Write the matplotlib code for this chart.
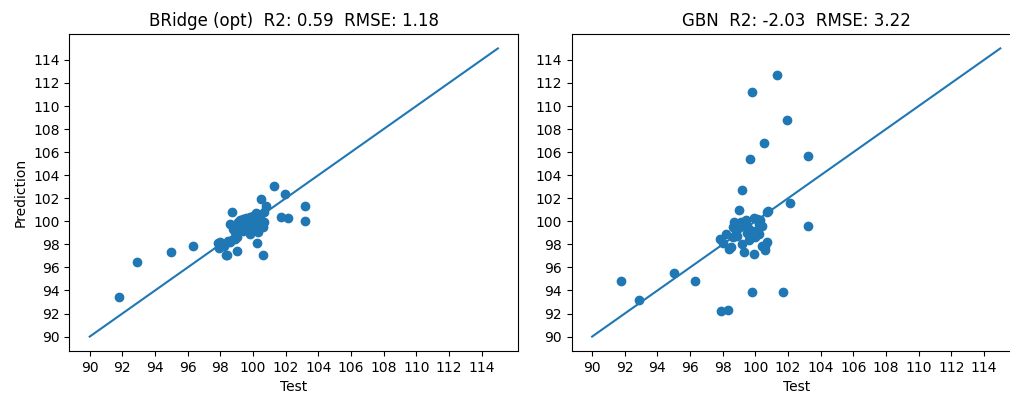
import matplotlib
matplotlib.use("Agg")
import matplotlib.pyplot as plt
import numpy as np

# Test values (shared by both panels)
x_test = [91.8, 92.9, 95.0, 96.3, 97.85, 97.9, 98.0, 98.35, 98.4, 98.6,
          98.7, 98.6, 98.9, 99.0, 99.0, 99.2, 99.3, 99.4, 99.4, 99.6,
          99.7, 99.8, 99.8, 99.9, 100.0, 100.1, 100.2, 100.25, 100.4, 100.5,
          100.6, 100.6, 100.7, 100.8, 101.3, 101.7, 101.96, 102.15, 103.2, 103.2,
          98.2, 99.1, 100.3, 99.6, 98.9, 100.7,
          98.5, 99.2, 99.5, 100.0, 98.8, 100.4, 99.9]

pred_bridge = [93.4, 96.5, 97.3, 97.9, 98.1, 97.7, 98.2, 97.1, 97.1, 98.2,
               100.8, 99.8, 99.1, 97.4, 98.65, 100.1, 99.5, 100.2, 99.2, 99.8,
               99.4, 100.4, 98.9, 99.4, 100.5, 99.8, 100.7, 98.1, 100.1, 101.9,
               97.1, 99.5, 100.8, 101.3, 103.1, 100.4, 102.4, 100.3, 101.3, 100.0,
               97.9, 99.9, 99.1, 100.3, 98.5, 99.9,
               98.3, 99.6, 99.9, 99.7, 99.3, 100.3, 100.1]

pred_gbn = [94.8, 93.2, 95.5, 94.8, 98.5, 92.2, 98.1, 92.3, 97.6, 99.5,
            99.9, 98.6, 98.7, 101.0, 99.5, 102.7, 97.3, 99.8, 100.1, 98.4,
            105.4, 111.2, 93.9, 97.2, 99.2, 100.2, 99.8, 98.9, 99.6, 106.8,
            97.5, 97.9, 100.8, 100.9, 112.7, 93.9, 108.8, 101.6, 105.7, 99.6,
            98.9, 99.9, 100.1, 99.3, 99.8, 98.2,
            97.8, 98.0, 99.0, 98.6, 99.2, 97.9, 100.3]

titles = ["BRidge (opt)  R2: 0.59  RMSE: 1.18", "GBN  R2: -2.03  RMSE: 3.22"]
ideal = [90, 115]
ticks = np.arange(90, 116, 2)

fig = plt.figure(figsize=(10.1, 3.96), dpi=100)
W, H = 1010, 396
ax1 = fig.add_axes([69.3 / W, 45 / H, 449 / W, 317 / H])
ax2 = fig.add_axes([571.7 / W, 45 / H, 449 / W, 317 / H])

for ax, pred, title in [(ax1, pred_bridge, titles[0]), (ax2, pred_gbn, titles[1])]:
    ax.scatter(x_test, pred)
    ax.plot(ideal, ideal)
    ax.set_xticks(ticks)
    ax.set_yticks(ticks)
    ax.set_xlim(88.75, 116.25)
    ax.set_ylim(88.75, 116.25)
    ax.set_title(title)
    ax.set_xlabel("Test")

ax1.set_ylabel("Prediction")

fig.savefig("out.png", dpi=100)
